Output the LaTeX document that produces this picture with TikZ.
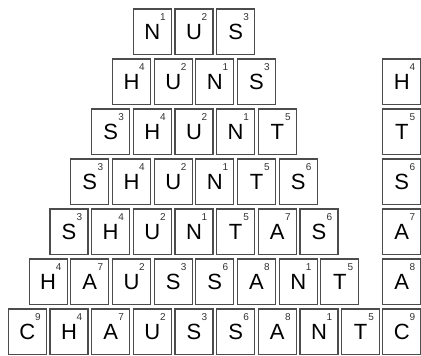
\documentclass[tikz,border=0pt]{standalone}
\usepackage{fontspec}
\setmainfont{Liberation Sans}
\usepackage{tikz}
\usetikzlibrary{positioning}

\begin{document}
\begin{tikzpicture}[x=1pt, y=1pt]
    % letter pyramid — tiles with letter values
\tikzset{
  tile/.style={draw=black!70, line width=1.1pt, rectangle, inner sep=0pt,
    minimum width=38pt, minimum height=45.5pt,
    font=\fontsize{22}{22}\selectfont},
  num/.style={font=\fontsize{10}{10}\selectfont, text=black!80,
    xshift=10.5pt, yshift=14.5pt},
}
  \useasboundingbox (0,0) rectangle (421,356);

  % Row 1: N U S
  \node[tile, label={[num]center:1}] (r1c1) at (152.3,324.25) {N};
  \node[tile, label={[num]center:2}] (r1c2) at (194.0,324.25) {U};
  \node[tile, label={[num]center:3}] (r1c3) at (235.6,324.25) {S};

  % Row 2: H U N S
  \node[tile, label={[num]center:4}] (r2c1) at (131.5,274.25) {H};
  \node[tile, label={[num]center:2}] (r2c2) at (173.2,274.25) {U};
  \node[tile, label={[num]center:1}] (r2c3) at (214.8,274.25) {N};
  \node[tile, label={[num]center:3}] (r2c4) at (256.5,274.25) {S};

  % Row 3: S H U N T
  \node[tile, label={[num]center:3}] (r3c1) at (110.6,224.25) {S};
  \node[tile, label={[num]center:4}] (r3c2) at (152.3,224.25) {H};
  \node[tile, label={[num]center:2}] (r3c3) at (194.0,224.25) {U};
  \node[tile, label={[num]center:1}] (r3c4) at (235.6,224.25) {N};
  \node[tile, label={[num]center:5}] (r3c5) at (277.3,224.25) {T};

  % Row 4: S H U N T S
  \node[tile, label={[num]center:3}] (r4c1) at (89.8,174.25) {S};
  \node[tile, label={[num]center:4}] (r4c2) at (131.5,174.25) {H};
  \node[tile, label={[num]center:2}] (r4c3) at (173.2,174.25) {U};
  \node[tile, label={[num]center:1}] (r4c4) at (214.8,174.25) {N};
  \node[tile, label={[num]center:5}] (r4c5) at (256.5,174.25) {T};
  \node[tile, label={[num]center:6}] (r4c6) at (298.2,174.25) {S};

  % Row 5: S H U N T A S
  \node[tile, label={[num]center:3}] (r5c1) at (69.0,124.25) {S};
  \node[tile, label={[num]center:4}] (r5c2) at (110.6,124.25) {H};
  \node[tile, label={[num]center:2}] (r5c3) at (152.3,124.25) {U};
  \node[tile, label={[num]center:1}] (r5c4) at (194.0,124.25) {N};
  \node[tile, label={[num]center:5}] (r5c5) at (235.6,124.25) {T};
  \node[tile, label={[num]center:7}] (r5c6) at (277.3,124.25) {A};
  \node[tile, label={[num]center:6}] (r5c7) at (319.0,124.25) {S};

  % Row 6: H A U S S A N T
  \node[tile, label={[num]center:4}] (r6c1) at (48.1,74.25) {H};
  \node[tile, label={[num]center:7}] (r6c2) at (89.8,74.25) {A};
  \node[tile, label={[num]center:2}] (r6c3) at (131.5,74.25) {U};
  \node[tile, label={[num]center:3}] (r6c4) at (173.2,74.25) {S};
  \node[tile, label={[num]center:6}] (r6c5) at (214.8,74.25) {S};
  \node[tile, label={[num]center:8}] (r6c6) at (256.5,74.25) {A};
  \node[tile, label={[num]center:1}] (r6c7) at (298.2,74.25) {N};
  \node[tile, label={[num]center:5}] (r6c8) at (339.8,74.25) {T};

  % Row 7: C H A U S S A N T
  \node[tile, label={[num]center:9}] (r7c1) at (27.3,24.25) {C};
  \node[tile, label={[num]center:4}] (r7c2) at (69.0,24.25) {H};
  \node[tile, label={[num]center:7}] (r7c3) at (110.6,24.25) {A};
  \node[tile, label={[num]center:2}] (r7c4) at (152.3,24.25) {U};
  \node[tile, label={[num]center:3}] (r7c5) at (194.0,24.25) {S};
  \node[tile, label={[num]center:6}] (r7c6) at (235.6,24.25) {S};
  \node[tile, label={[num]center:8}] (r7c7) at (277.3,24.25) {A};
  \node[tile, label={[num]center:1}] (r7c8) at (319.0,24.25) {N};
  \node[tile, label={[num]center:5}] (r7c9) at (360.6,24.25) {T};

  % Right column: added letters
  \node[tile, label={[num]center:4}] (add2) at (401.8,274.25) {H};
  \node[tile, label={[num]center:5}] (add3) at (401.8,224.25) {T};
  \node[tile, label={[num]center:6}] (add4) at (401.8,174.25) {S};
  \node[tile, label={[num]center:7}] (add5) at (401.8,124.25) {A};
  \node[tile, label={[num]center:8}] (add6) at (401.8,74.25) {A};
  \node[tile, label={[num]center:9}] (add7) at (401.8,24.25) {C};

\end{tikzpicture}
\end{document}
